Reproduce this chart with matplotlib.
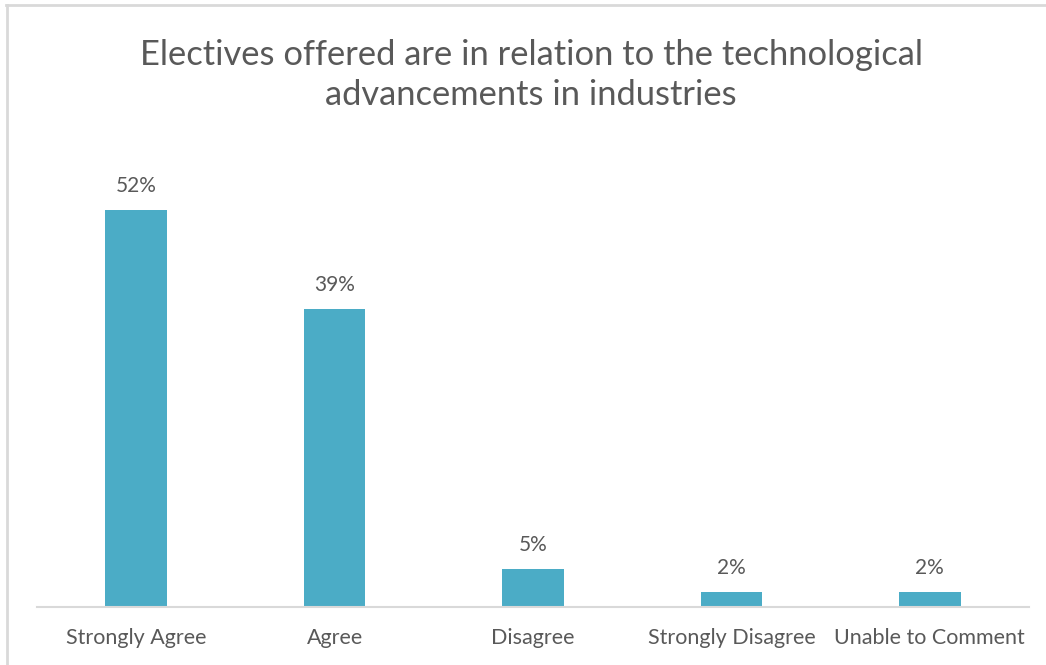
import matplotlib
matplotlib.use("Agg")
import matplotlib.pyplot as plt
from matplotlib.lines import Line2D

categories = ["Strongly Agree", "Agree", "Disagree", "Strongly Disagree", "Unable to Comment"]
values = [52, 39, 5, 2, 2]
labels = ["52%", "39%", "5%", "2%", "2%"]
title = "Electives offered are in relation to the technological\nadvancements in industries"

plt.rcParams['font.family'] = ['Lato', 'DejaVu Sans']
TXT = "#595959"

W, H = 1046, 665
fig = plt.figure(figsize=(10.46, 6.65), dpi=100)
fig.patch.set_facecolor("white")
# frame: top and left edges only (chart is cropped on right and bottom)
fig.lines.append(Line2D([6/W, 1], [1 - 5/H, 1 - 5/H], transform=fig.transFigure,
                        color="#D9D9D9", linewidth=2))
fig.lines.append(Line2D([7/W, 7/W], [0, 1 - 5/H], transform=fig.transFigure,
                        color="#D9D9D9", linewidth=2))

left, right = 37, 1029
bottom, top = 607, 149
ax = fig.add_axes([left/W, 1 - bottom/H, (right-left)/W, (bottom-top)/H])
x = range(len(categories))
ax.bar(x, values, width=0.31, color="#4BACC6")
for xi, v, l in zip(x, values, labels):
    ax.annotate(l, (xi, v), xytext=(0, 14), textcoords="offset pixels",
                ha="center", va="bottom", fontsize=15, color=TXT)
ax.set_xlim(-0.5, len(categories) - 0.5)
ax.set_ylim(0, 60)
ax.set_xticks(list(x))
ax.set_xticklabels(categories, fontsize=15.5, color=TXT)
ax.tick_params(axis="x", length=0, pad=15)
ax.set_yticks([])
for s in ["top", "right", "left"]:
    ax.spines[s].set_visible(False)
ax.spines["bottom"].set_color("#D9D9D9")
ax.spines["bottom"].set_linewidth(1.5)

fig.text(531/W, 1 - 105/H, title, ha="center", va="baseline", fontsize=24.8, color=TXT, linespacing=1.31)

fig.savefig("out.png", dpi=100)
